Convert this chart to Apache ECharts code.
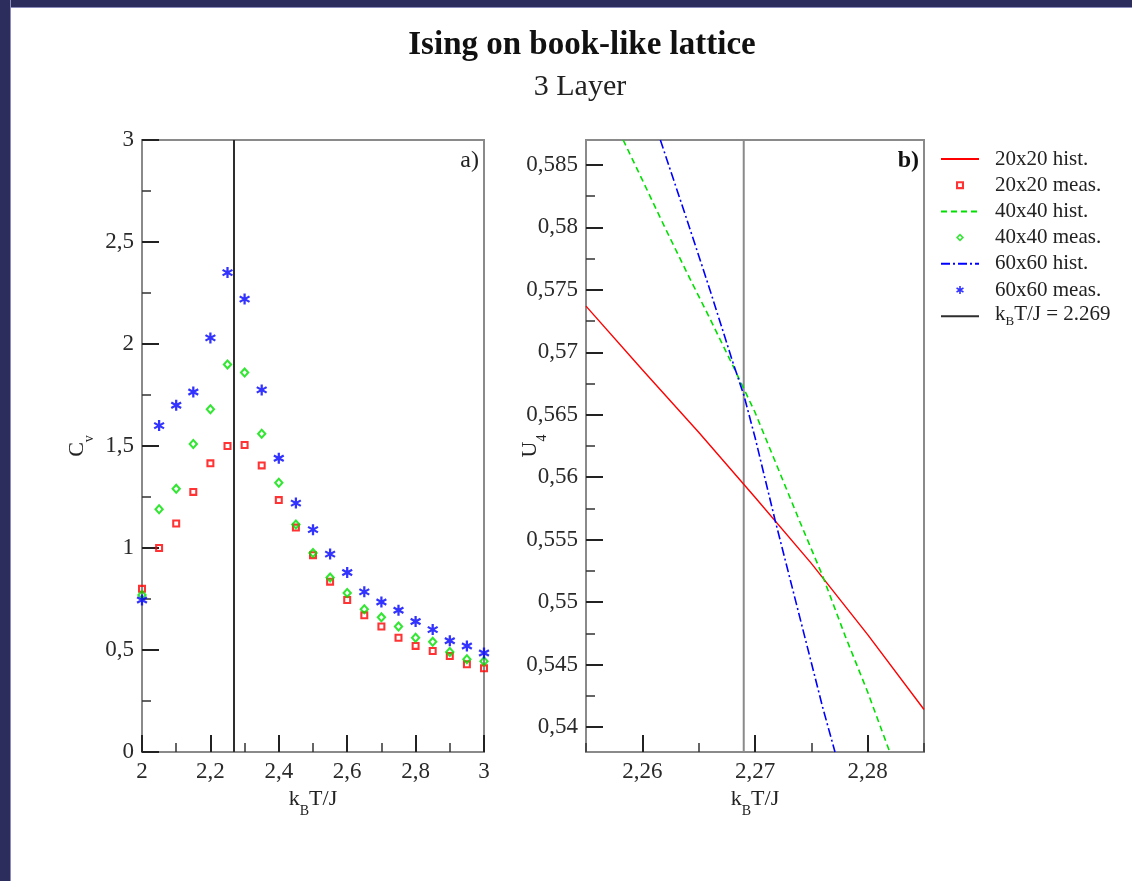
<!DOCTYPE html>
<html>
<head>
<meta charset="utf-8">
<script src="https://cdn.jsdelivr.net/npm/echarts@6/dist/echarts.min.js"></script>
<style>
html, body { margin: 0; padding: 0; background: #fff; }
#chart { position: absolute; left: 0; top: 0; width: 1132px; height: 881px; }
.band-top { position: absolute; left: 0; top: 0; width: 1132px; height: 7px; background: #2c2d5d; border-bottom: 1px solid #8c8cbc; }
.band-left { position: absolute; left: 0; top: 0; width: 10px; height: 881px; background: #2c2d5d; border-right: 1px solid #8c8cbc; }
</style>
</head>
<body>
<div id="chart"></div>
<div class="band-top"></div>
<div class="band-left"></div>
<script>
// Panel a): specific heat C_v versus temperature
const temps = [2.00, 2.05, 2.10, 2.15, 2.20, 2.25, 2.30, 2.35, 2.40, 2.45, 2.50,
               2.55, 2.60, 2.65, 2.70, 2.75, 2.80, 2.85, 2.90, 2.95, 3.00];
const cv20 = [0.80, 1.00, 1.12, 1.275, 1.415, 1.50, 1.505, 1.405, 1.235, 1.10, 0.965,
              0.835, 0.745, 0.67, 0.615, 0.56, 0.52, 0.495, 0.47, 0.43, 0.41];
const cv40 = [0.77, 1.19, 1.29, 1.51, 1.68, 1.90, 1.86, 1.56, 1.32, 1.115, 0.975,
              0.855, 0.78, 0.70, 0.66, 0.615, 0.56, 0.54, 0.49, 0.455, 0.445];
const cv60 = [0.745, 1.60, 1.70, 1.765, 2.03, 2.35, 2.22, 1.775, 1.44, 1.22, 1.09,
              0.97, 0.88, 0.785, 0.735, 0.695, 0.64, 0.60, 0.545, 0.52, 0.485];

// Panel b): Binder cumulant U_4 from histogram reweighting
const u4T20 = [2.255, 2.260, 2.265, 2.270, 2.275, 2.280, 2.285];
const u4H20 = [0.5737, 0.5686, 0.5636, 0.5584, 0.5531, 0.5474, 0.5414];
const u4T40 = [2.2583, 2.260, 2.262, 2.264, 2.266, 2.268, 2.270, 2.272, 2.274, 2.276, 2.278, 2.280, 2.282];
const u4H40 = [0.5870, 0.5838, 0.5800, 0.5763, 0.5727, 0.5690, 0.5652, 0.5608, 0.5564, 0.5521, 0.5473, 0.5428, 0.5379];
const u4T60 = [2.2616, 2.264, 2.266, 2.268, 2.269, 2.270, 2.2718, 2.274, 2.276, 2.2771];
const u4H60 = [0.5870, 0.5805, 0.5750, 0.5693, 0.5666, 0.5632, 0.5565, 0.5487, 0.5416, 0.5380];

// Exact critical temperature of the 2D Ising model
const Tc = 2.269;

// Tick positions of panel b)
const bXMajor = [2.26, 2.27, 2.28];
const bXMinor = [2.255, 2.265, 2.275, 2.285];
const bYMajor = [0.54, 0.545, 0.55, 0.555, 0.56, 0.565, 0.57, 0.575, 0.58, 0.585];
const bYMinor = [0.5425, 0.5475, 0.5525, 0.5575, 0.5625, 0.5675, 0.5725, 0.5775, 0.5825];

const names = ['20x20 hist.', '20x20 meas.', '40x40 hist.', '40x40 meas.', '60x60 hist.', '60x60 meas.', 'kBT/J = 2.269'];
const lineNames = [names[0], names[2], names[4], names[6]];

const pair = (xs, ys) => xs.map((x, i) => [x, ys[i]]);
const comma = v => String(+(+v).toFixed(4)).replace('.', ',');

const FONT = '"Liberation Serif", "DejaVu Serif", serif';
const SQUARE = 'path://M0 0H10V10H0Z M2.6 2.6V7.4H7.4V2.6Z';
const DIAMOND = 'path://M5 0L10 5L5 10L0 5Z M5 2.8L2.8 5L5 7.2L7.2 5Z';
const STAR = 'path://M4 0H6V10H4Z M9.83 6.63L8.83 8.37L0.17 3.37L1.17 1.63Z M8.83 1.63L9.83 3.37L1.17 8.37L0.17 6.63Z';

const rich = {
  n: { fontFamily: FONT, fontSize: 22, lineHeight: 30, verticalAlign: 'top', color: '#222' },
  s: { fontFamily: FONT, fontSize: 14, lineHeight: 16, verticalAlign: 'bottom', color: '#222' }
};
const legendRich = {
  n: { fontFamily: FONT, fontSize: 21, lineHeight: 24, verticalAlign: 'top', color: '#222' },
  s: { fontFamily: FONT, fontSize: 13, lineHeight: 12, verticalAlign: 'bottom', color: '#222' }
};

const axisLine = { show: true, onZero: false, lineStyle: { color: '#8a8a8a', width: 2 } };
const tickLabel = { fontFamily: FONT, fontSize: 23, color: '#2a2a2a', margin: 8 };
const majorTick = { show: true, inside: true, length: 17, lineStyle: { color: '#222', width: 2 } };
const minorTick = { show: true, splitNumber: 2, length: 9, lineStyle: { color: '#333', width: 1.5 } };
const minorTickCustom = vals => ({ show: true, inside: true, length: 9, customValues: vals, lineStyle: { color: '#333', width: 1.5 } });

const option = {
  animation: false,
  backgroundColor: '#fff',
  graphic: [
    { type: 'text', x: 582, y: 45, style: { text: 'Ising on book-like lattice', font: 'bold 33px ' + FONT, fill: '#111', textAlign: 'center', textVerticalAlign: 'middle' } },
    { type: 'text', x: 580, y: 87, style: { text: '3 Layer', font: '30px ' + FONT, fill: '#222', textAlign: 'center', textVerticalAlign: 'middle' } },
    { type: 'text', x: 479, y: 161, style: { text: 'a)', font: '24px ' + FONT, fill: '#222', textAlign: 'right', textVerticalAlign: 'middle' } },
    { type: 'text', x: 919, y: 161, style: { text: 'b)', font: 'bold 24px ' + FONT, fill: '#111', textAlign: 'right', textVerticalAlign: 'middle' } }
  ],
  grid: [
    { left: 142, top: 140, width: 342, height: 612, show: true, borderColor: '#8a8a8a', borderWidth: 2, backgroundColor: 'transparent' },
    { left: 586, top: 140, width: 338, height: 612, show: true, borderColor: '#8a8a8a', borderWidth: 2, backgroundColor: 'transparent' }
  ],
  xAxis: [
    {
      gridIndex: 0, type: 'value', position: 'bottom', min: 2, max: 3, interval: 0.2,
      axisLine, splitLine: { show: false },
      axisTick: majorTick, minorTick,
      axisLabel: { ...tickLabel, formatter: comma },
      name: '{n|k}{s|B}{n|T/J}', nameLocation: 'middle', nameGap: 32,
      nameTextStyle: { rich }
    },
    {
      gridIndex: 1, type: 'value', position: 'bottom', min: 2.255, max: 2.285,
      axisLine, splitLine: { show: false },
      axisTick: { ...majorTick, customValues: bXMajor },
      axisLabel: { ...tickLabel, customValues: bXMajor, formatter: comma },
      name: '{n|k}{s|B}{n|T/J}', nameLocation: 'middle', nameGap: 32,
      nameTextStyle: { rich }
    },
    {
      gridIndex: 1, type: 'value', position: 'bottom', offset: 0, min: 2.255, max: 2.285,
      axisLine: { show: false }, splitLine: { show: false },
      axisTick: minorTickCustom(bXMinor),
      axisLabel: { show: false }
    }
  ],
  yAxis: [
    {
      gridIndex: 0, type: 'value', position: 'left', min: 0, max: 3, interval: 0.5,
      axisLine, splitLine: { show: false },
      axisTick: majorTick, minorTick,
      axisLabel: { ...tickLabel, formatter: comma },
      name: '{n|C}{s|v}', nameLocation: 'middle', nameGap: 46,
      nameTextStyle: { rich }
    },
    {
      gridIndex: 1, type: 'value', position: 'left', min: 0.538, max: 0.587,
      axisLine, splitLine: { show: false },
      axisTick: { ...majorTick, customValues: bYMajor },
      axisLabel: { ...tickLabel, customValues: bYMajor, formatter: comma },
      name: '{n|U}{s|4}', nameLocation: 'middle', nameGap: 37, nameMoveOverlap: false,
      nameTextStyle: { rich }
    },
    {
      gridIndex: 1, type: 'value', position: 'left', offset: 0, min: 0.538, max: 0.587,
      axisLine: { show: false }, splitLine: { show: false },
      axisTick: minorTickCustom(bYMinor),
      axisLabel: { show: false }
    }
  ],
  legend: {
    left: 940, top: 147, orient: 'vertical', padding: 0,
    itemWidth: 38, itemHeight: 8, itemGap: 2.2,
    data: names.map(n => lineNames.includes(n)
      ? { name: n, itemStyle: { opacity: 0, borderWidth: 0 } }
      : { name: n }),
    selectedMode: false,
    textStyle: { fontFamily: FONT, fontSize: 21, lineHeight: 24, color: '#222', padding: [0, 0, 0, 11], rich: legendRich },
    formatter: n => n === names[6] ? '{n|k}{s|B}{n|T/J = 2.269}' : n
  },
  series: [
    // panel a) vertical line at Tc
    { name: names[6], type: 'line', xAxisIndex: 0, yAxisIndex: 0, symbol: 'none', silent: true,
      data: [[Tc, 0], [Tc, 3]], lineStyle: { color: '#2e2e2e', width: 2 }, itemStyle: { color: '#2e2e2e' } },
    // panel a) measured specific heat
    { name: names[1], type: 'scatter', xAxisIndex: 0, yAxisIndex: 0, symbol: SQUARE, symbolSize: [8, 8],
      data: pair(temps, cv20), itemStyle: { color: '#ff0000' } },
    { name: names[3], type: 'scatter', xAxisIndex: 0, yAxisIndex: 0, symbol: DIAMOND, symbolSize: [10, 11],
      data: pair(temps, cv40), itemStyle: { color: '#00e000' } },
    { name: names[5], type: 'scatter', xAxisIndex: 0, yAxisIndex: 0, symbol: STAR, symbolSize: [11, 11],
      data: pair(temps, cv60), itemStyle: { color: '#0000ff' } },
    // panel b) vertical line at Tc
    { name: names[6], type: 'line', xAxisIndex: 1, yAxisIndex: 1, symbol: 'none', silent: true,
      data: [[Tc, 0.538], [Tc, 0.587]], lineStyle: { color: '#8a8a8a', width: 2 }, itemStyle: { color: '#8a8a8a' } },
    // panel b) histogram curves
    { name: names[0], type: 'line', xAxisIndex: 1, yAxisIndex: 1, symbol: 'none', silent: true,
      data: pair(u4T20, u4H20), lineStyle: { color: '#ff0000', width: 1.4 }, itemStyle: { color: '#ff0000' } },
    { name: names[2], type: 'line', xAxisIndex: 1, yAxisIndex: 1, symbol: 'none', silent: true,
      data: pair(u4T40, u4H40), lineStyle: { color: '#00e000', width: 1.6, type: [6, 4] }, itemStyle: { color: '#00e000' } },
    { name: names[4], type: 'line', xAxisIndex: 1, yAxisIndex: 1, symbol: 'none', silent: true,
      data: pair(u4T60, u4H60), lineStyle: { color: '#0000ff', width: 1.6, type: [9, 3, 2, 3] }, itemStyle: { color: '#0000ff' } }
  ]
};

const chart = echarts.init(document.getElementById('chart'), null, { renderer: 'canvas' });
chart.setOption(option);
</script>
</body>
</html>
